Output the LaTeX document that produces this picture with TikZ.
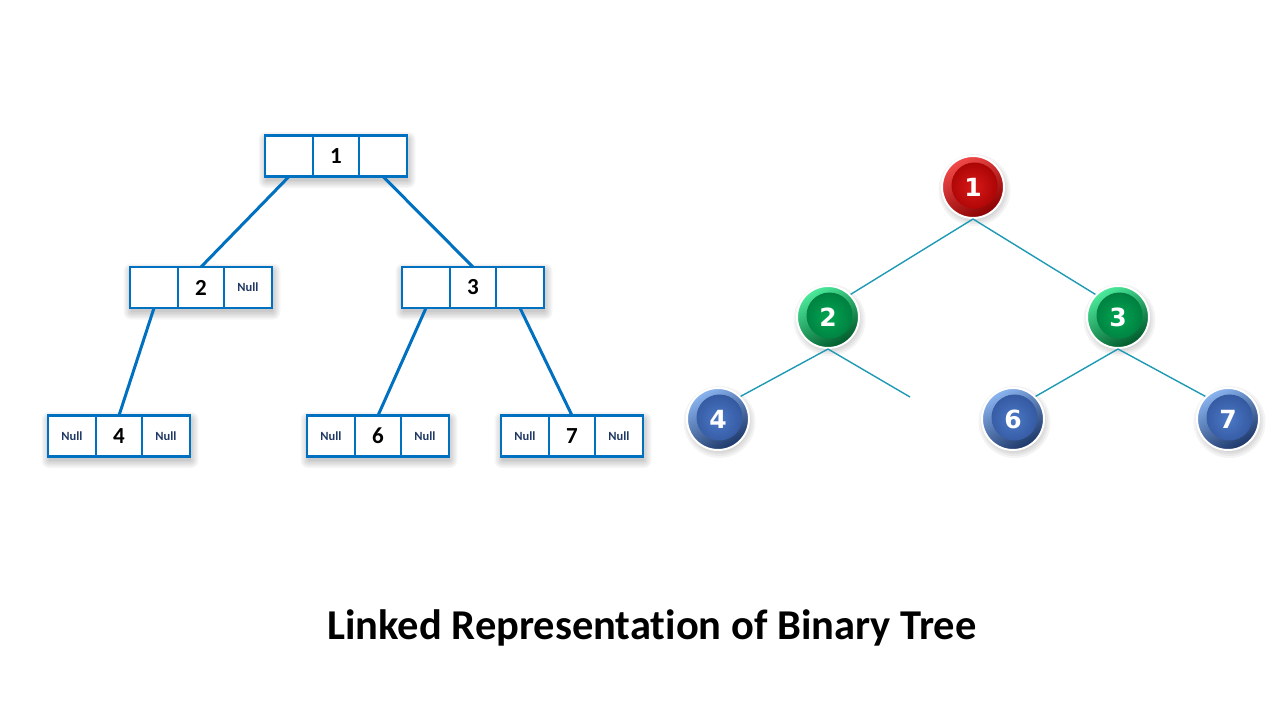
\documentclass[tikz,border=0pt]{standalone}
\usepackage{fontspec}
\setmainfont{Carlito}[Ligatures=NoCommon]
\newfontfamily\ballfont{DejaVu Sans}
\usetikzlibrary{backgrounds,fit}
\definecolor{linkblue}{HTML}{0070C0}
\definecolor{nulltext}{HTML}{1F3864}
\definecolor{edgeteal}{HTML}{1E9AB4}
\definecolor{redA}{HTML}{F24A4A}\definecolor{redB}{HTML}{8A0000}
\definecolor{redC}{HTML}{D81818}\definecolor{redD}{HTML}{A00000}
\definecolor{grnA}{HTML}{4CEB9C}\definecolor{grnB}{HTML}{00592A}
\definecolor{grnC}{HTML}{00A552}\definecolor{grnD}{HTML}{00763B}
\definecolor{bluA}{HTML}{8AB4F0}\definecolor{bluB}{HTML}{1C3668}
\definecolor{bluC}{HTML}{4C78C6}\definecolor{bluD}{HTML}{2E5298}
\newcommand\record[6]{%
  \node[midcell] (#1m) at (#2,#3) {#5};
  \node[sidecell, anchor=east] (#1l) at (#1m.west) {#4};
  \node[sidecell, anchor=west] (#1r) at (#1m.east) {#6};
  \begin{scope}[on background layer]
    \foreach \s in {0,1.5,...,7.5}{
      \fill[black, opacity=0.035, rounded corners=\s pt]
        ([shift={(1-\s,4-\s)}]#1l.north west) rectangle ([shift={(1+\s,4+\s)}]#1r.south east);}
  \end{scope}}
\newcommand\ballshadow[1]{%
  \begin{scope}[on background layer]
    \foreach \s in {24,26,...,36}{
      \fill[black, opacity=0.045] ([shift={(1.5,3)}]#1.center) circle (\s pt);}
  \end{scope}}
\begin{document}
\begin{tikzpicture}[x=1pt,y=-1pt,
  cell/.style={draw=linkblue, line width=2.6pt, fill=white, inner sep=0pt, outer sep=0pt, minimum height=41pt},
  sidecell/.style={cell, minimum width=48pt, text=nulltext, font=\bfseries\fontsize{12.5}{13}\selectfont},
  midcell/.style={cell, minimum width=46pt, text=black, font=\bfseries\fontsize{23}{23}\selectfont},
  link/.style={draw=linkblue, line width=3pt},
  tedge/.style={draw=edgeteal, line width=1.4pt},
  ball/.style n args={4}{circle, minimum size=62pt, inner sep=0pt, draw=white, line width=2pt,
     text=white, font=\ballfont\bfseries\fontsize{25}{25}\selectfont,
     top color=#1, bottom color=#2, shading angle=30,
     path picture={\shade[inner color=#3, outer color=#4] ([shift={(1.5pt,1.5pt)}]path picture bounding box.center) circle (23pt);}},
  redball/.style={ball={redA}{redB}{redC}{redD}},
  greenball/.style={ball={grnA}{grnB}{grnC}{grnD}},
  blueball/.style={ball={bluA}{bluB}{bluC}{bluD}},
  title/.style={font=\bfseries\fontsize{42.5}{43}\selectfont}]
\useasboundingbox (0,0) rectangle (1280,720);
\begin{scope}[on background layer]
  \fill[white] (0,0) rectangle (1280,720);
\end{scope}
% left: linked records
\record{n1}{336}{156}{}{1}{}
\record{n2}{201}{287.5}{}{2}{Null}
\record{n3}{473}{287.5}{}{3}{}
\record{n4}{119}{436}{Null}{4}{Null}
\record{n6}{378}{436}{Null}{6}{Null}
\record{n7}{572}{436}{Null}{7}{Null}
\draw[link] (n1l.south) -- (n2m.north);
\draw[link] (n1r.south) -- (n3m.north);
\draw[link] (n2l.south) -- (n4m.north);
\draw[link] (n3l.south) -- (n6m.north);
\draw[link] (n3r.south) -- (n7m.north);
% right: tree
\node[redball] (c1) at (973,187) {1};
\node[greenball] (c2) at (828,317) {2};
\node[greenball] (c3) at (1118,317) {3};
\node[blueball] (c4) at (718,419) {4};
\node[blueball] (c6) at (1013,419) {6};
\node[blueball] (c7) at (1228,419) {7};
\foreach \c in {c1,c2,c3,c4,c6,c7}{\ballshadow{\c}}
\coordinate (free) at (910,397);
\draw[tedge] (c1.south) -- (c2.north east);
\draw[tedge] (c1.south) -- (c3.north west);
\draw[tedge] (c2.south) -- (c4.north east);
\draw[tedge] (c2.south) -- (free);
\draw[tedge] (c3.south) -- (c6.north east);
\draw[tedge] (c3.south) -- (c7.north west);
\node[title] (t) at (652,628) {Linked Representation of Binary Tree};
\end{tikzpicture}
\end{document}
